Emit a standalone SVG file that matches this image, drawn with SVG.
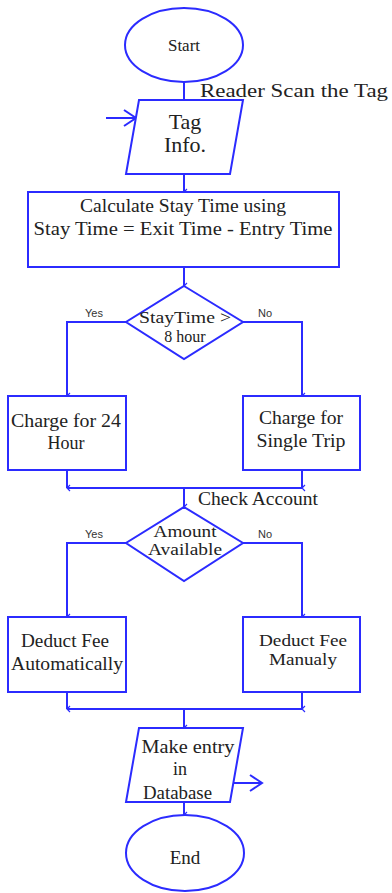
<svg xmlns="http://www.w3.org/2000/svg" width="392" height="893" viewBox="0 0 392 893">
<style>
.s{fill:#fff;stroke:#2b2bff;stroke-width:2}
.c{fill:none;stroke:#2b2bff;stroke-width:2}
.t{font-family:"Liberation Serif","Times New Roman",serif;fill:#222;text-anchor:middle}
.l{font-family:"Liberation Sans",Arial,sans-serif;font-size:11px;fill:#333;text-anchor:middle}
</style>
<defs>
<marker id="a" viewBox="0 0 8 8" refX="4" refY="7" markerWidth="8" markerHeight="8" markerUnits="userSpaceOnUse" orient="auto-start-reverse">
<path d="M1,4 L4,7 L7,4" fill="none" stroke="#2b2bff" stroke-width="1.2"/>
</marker>
</defs>
<g id="connectors">
<line class="c" x1="184" y1="82" x2="184" y2="100"/>
<path class="c" d="M106,118 H136 M124,110 L136,118 L124,126"/>
<line class="c" x1="184" y1="174" x2="184" y2="192" marker-end="url(#a)"/>
<line class="c" x1="184" y1="267" x2="184" y2="286" marker-end="url(#a)"/>
<path class="c" d="M126,322 H67 V396" marker-end="url(#a)"/>
<path class="c" d="M243,322 H302 V396" marker-end="url(#a)"/>
<path class="c" d="M67,470 V488" marker-end="url(#a)"/>
<path class="c" d="M302,470 V488" marker-end="url(#a)"/>
<line class="c" x1="67" y1="488" x2="302" y2="488"/>
<line class="c" x1="184" y1="488" x2="184" y2="507" marker-end="url(#a)"/>
<path class="c" d="M126,543 H67 V617" marker-end="url(#a)"/>
<path class="c" d="M243,543 H302 V617" marker-end="url(#a)"/>
<path class="c" d="M67,692 V709" marker-end="url(#a)"/>
<path class="c" d="M302,692 V709" marker-end="url(#a)"/>
<line class="c" x1="67" y1="709" x2="302" y2="709"/>
<line class="c" x1="184" y1="709" x2="184" y2="728" marker-end="url(#a)"/>
<path class="c" d="M233,783 H262 M250,775 L262,783 L250,791"/>
<line class="c" x1="184" y1="802" x2="184" y2="815" marker-end="url(#a)"/>
<text class="t" x="200" y="97" font-size="19" textLength="188" lengthAdjust="spacingAndGlyphs" style="text-anchor:start">Reader Scan the Tag</text>
<text class="t" x="198" y="505" font-size="18" textLength="120" lengthAdjust="spacingAndGlyphs" style="text-anchor:start">Check Account</text>
<text class="l" x="94" y="317">Yes</text>
<text class="l" x="265" y="317">No</text>
<text class="l" x="94" y="538">Yes</text>
<text class="l" x="265" y="538">No</text>
</g>
<g id="start">
<ellipse class="s" cx="184" cy="45" rx="59" ry="37"/>
<text class="t" x="184" y="51" font-size="17">Start</text>
</g>
<g id="tag">
<polygon class="s" points="139,100 243,100 230,174 126,174"/>
<text class="t" x="185" y="129" font-size="22">Tag</text>
<text class="t" x="185" y="152" font-size="22">Info.</text>
</g>
<g id="calc">
<rect class="s" x="28" y="192" width="311" height="75"/>
<text class="t" x="183" y="212" font-size="18" textLength="206" lengthAdjust="spacingAndGlyphs">Calculate Stay Time using</text>
<text class="t" x="183" y="235" font-size="18" textLength="299" lengthAdjust="spacingAndGlyphs">Stay Time = Exit Time - Entry Time</text>
</g>
<g id="d1">
<polygon class="s" points="184,286 243,322 184,359 126,322"/>
<text class="t" x="185" y="323" font-size="16" textLength="92" lengthAdjust="spacingAndGlyphs">StayTime &gt;</text>
<text class="t" x="185" y="342" font-size="16">8 hour</text>
</g>
<g id="c24">
<rect class="s" x="8" y="396" width="118" height="74"/>
<text class="t" x="66" y="427" font-size="18" textLength="110" lengthAdjust="spacingAndGlyphs">Charge for 24</text>
<text class="t" x="66" y="449" font-size="18">Hour</text>
</g>
<g id="csingle">
<rect class="s" x="243" y="396" width="117" height="74"/>
<text class="t" x="301" y="424" font-size="18" textLength="84" lengthAdjust="spacingAndGlyphs">Charge for</text>
<text class="t" x="301" y="447" font-size="18" textLength="89" lengthAdjust="spacingAndGlyphs">Single Trip</text>
</g>
<g id="d2">
<polygon class="s" points="184,507 243,543 184,581 126,543"/>
<text class="t" x="185" y="537" font-size="17" textLength="63" lengthAdjust="spacingAndGlyphs">Amount</text>
<text class="t" x="185" y="555" font-size="17" textLength="74" lengthAdjust="spacingAndGlyphs">Available</text>
</g>
<g id="auto">
<rect class="s" x="8" y="617" width="118" height="75"/>
<text class="t" x="65" y="647" font-size="18" textLength="88" lengthAdjust="spacingAndGlyphs">Deduct Fee</text>
<text class="t" x="67" y="670" font-size="18" textLength="112" lengthAdjust="spacingAndGlyphs">Automatically</text>
</g>
<g id="manual">
<rect class="s" x="243" y="617" width="117" height="75"/>
<text class="t" x="303" y="646" font-size="17" textLength="88" lengthAdjust="spacingAndGlyphs">Deduct Fee</text>
<text class="t" x="303" y="665" font-size="17" textLength="68" lengthAdjust="spacingAndGlyphs">Manualy</text>
</g>
<g id="db">
<polygon class="s" points="139,728 243,728 230,802 126,802"/>
<text class="t" x="188" y="753" font-size="18" textLength="93" lengthAdjust="spacingAndGlyphs">Make entry</text>
<text class="t" x="180" y="775" font-size="18">in</text>
<text class="t" x="143" y="799" font-size="18" textLength="69" lengthAdjust="spacingAndGlyphs" style="text-anchor:start">Database</text>
</g>
<g id="end">
<ellipse class="s" cx="185" cy="853" rx="59" ry="38"/>
<text class="t" x="185" y="864" font-size="19">End</text>
</g>
</svg>
